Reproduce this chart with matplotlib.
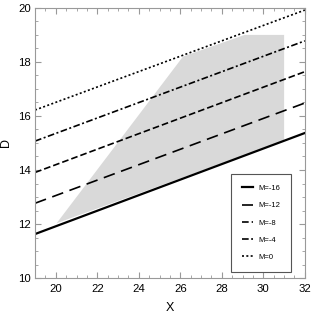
import numpy as np
import matplotlib.pyplot as plt
from matplotlib.ticker import MultipleLocator

plt.rcParams['font.family'] = ['Liberation Sans', 'DejaVu Sans']

# line endpoints (X from 19 to 32)
x_ends = [19, 32]
labels = ['M=-16', 'M=-12', 'M=-8', 'M=-4', 'M=0']
d_m16 = [11.63, 15.37]
d_m12 = [12.77, 16.48]
d_m8 = [13.91, 17.64]
d_m4 = [15.07, 18.78]
d_m0 = [16.22, 19.92]

# shaded region outline
region_x = [20.04, 26.13, 29.1, 31.0, 31.0]
region_d = [12.03, 18.2, 19.0, 19.0, 15.08]

fig = plt.figure(figsize=(3.13, 3.16), dpi=100)
ax = fig.add_axes([0.112, 0.12, 0.862, 0.855])

ax.fill(region_x, region_d, color='#d9d9d9', lw=0)

styles = [
    dict(ls='-', lw=1.6),
    dict(ls=(0, (7, 4)), lw=1.2),
    dict(ls=(0, (4, 1.8)), lw=1.2),
    dict(ls=(0, (4, 1.5, 1.2, 1.5)), lw=1.2),
    dict(ls=(0, (1.2, 1.4)), lw=1.2),
]
for d, lab, st in zip([d_m16, d_m12, d_m8, d_m4, d_m0], labels, styles):
    ax.plot(x_ends, d, color='black', label=lab, **st)

ax.set_xlim(19, 32)
ax.set_ylim(10, 20)
ax.xaxis.set_major_locator(MultipleLocator(2))
ax.xaxis.set_minor_locator(MultipleLocator(0.5))
ax.yaxis.set_major_locator(MultipleLocator(2))
ax.yaxis.set_minor_locator(MultipleLocator(0.5))
ax.tick_params(which='both', direction='in', top=True, right=True,
               color='#999999', labelsize=8.2)
ax.tick_params(which='major', length=4)
ax.tick_params(which='minor', length=2)
ax.tick_params(axis='x', labeltop=False, pad=4.5)
ax.tick_params(axis='y', labelright=False, pad=3)
for s in ax.spines.values():
    s.set_color('#999999')

ax.set_xlabel('X', fontsize=9)
ax.set_ylabel('D', fontsize=9)
ax.xaxis.set_label_coords(0.5, -0.089)
ax.yaxis.set_label_coords(-0.086, 0.5)

leg = ax.legend(loc='lower right', bbox_to_anchor=(0.948, 0.022), borderaxespad=0,
                fontsize=5.5, fancybox=False, handlelength=1.5,
                labelspacing=1.3, borderpad=1.45, handletextpad=0.6,
                framealpha=1)
leg.get_frame().set_edgecolor('#555555')
leg.get_frame().set_linewidth(0.8)

fig.savefig('out.png', dpi=100)
